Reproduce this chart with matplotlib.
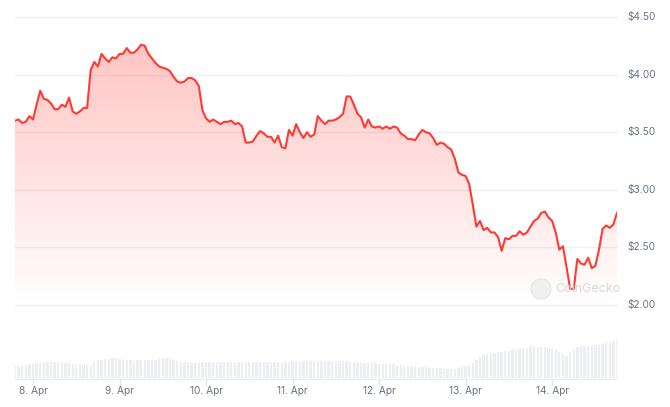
import numpy as np
import pandas as pd
import matplotlib
matplotlib.use("Agg")
import matplotlib.pyplot as plt
import matplotlib.dates as mdates
from matplotlib.patches import Polygon, Ellipse

plt.rcParams['font.family'] = ['Inter', 'DejaVu Sans']

# hourly price, USD
prices = [
    3.60, 3.61, 3.58, 3.59, 3.64, 3.61, 3.74, 3.86, 3.79, 3.78,
    3.75, 3.70, 3.70, 3.74, 3.72, 3.80, 3.68, 3.66, 3.68, 3.71,
    3.71, 4.04, 4.11, 4.07, 4.18, 4.14, 4.11, 4.15, 4.14, 4.18,
    4.18, 4.23, 4.19, 4.19, 4.22, 4.26, 4.25, 4.18, 4.14, 4.10,
    4.07, 4.06, 4.05, 4.03, 3.98, 3.94, 3.93, 3.94, 3.97, 3.97,
    3.95, 3.90, 3.69, 3.62, 3.59, 3.61, 3.59, 3.57, 3.59, 3.59,
    3.60, 3.57, 3.58, 3.55, 3.41, 3.41, 3.42, 3.47, 3.51, 3.49,
    3.46, 3.46, 3.41, 3.47, 3.37, 3.36, 3.52, 3.47, 3.57, 3.50,
    3.45, 3.50, 3.46, 3.48, 3.64, 3.60, 3.57, 3.60, 3.60, 3.61,
    3.63, 3.66, 3.81, 3.81, 3.74, 3.66, 3.63, 3.54, 3.61, 3.55,
    3.54, 3.55, 3.53, 3.55, 3.53, 3.55, 3.54, 3.49, 3.47, 3.44,
    3.44, 3.43, 3.48, 3.52, 3.50, 3.49, 3.45, 3.39, 3.41, 3.40,
    3.37, 3.35, 3.27, 3.15, 3.13, 3.12, 3.05, 2.87, 2.68, 2.73,
    2.65, 2.67, 2.63, 2.63, 2.59, 2.47, 2.58, 2.57, 2.60, 2.60,
    2.64, 2.61, 2.63, 2.68, 2.73, 2.75, 2.80, 2.81, 2.76, 2.73,
    2.63, 2.48, 2.51, 2.33, 2.14, 2.14, 2.40, 2.36, 2.35, 2.41,
    2.32, 2.34, 2.48, 2.66, 2.69, 2.67, 2.70, 2.80,
]

# hourly volume, arbitrary units (bar heights)
volumes = [
    12, 12, 13, 13, 14, 14, 15, 15, 16, 16,
    16, 16, 16, 15, 15, 15, 14, 14, 14, 14,
    13, 13, 17, 18, 18, 19, 19, 20, 20, 19,
    19, 18, 18, 17, 18, 18, 18, 18, 18, 18,
    19, 20, 20, 19, 18, 17, 16, 16, 16, 15,
    15, 15, 16, 16, 16, 16, 16, 16, 16, 16,
    16, 16, 16, 16, 16, 16, 16, 16, 16, 16,
    16, 16, 16, 16, 15, 16, 16, 17, 17, 16,
    17, 17, 17, 17, 17, 17, 17, 17, 17, 17,
    17, 17, 17, 16, 16, 16, 16, 15, 15, 15,
    15, 14, 14, 14, 14, 14, 13, 13, 12, 12,
    12, 12, 11, 11, 11, 10, 10, 10, 10, 9,
    9, 9, 9, 10, 11, 12, 13, 15, 18, 21,
    23, 24, 25, 25, 26, 26, 27, 27, 28, 29,
    29, 30, 30, 31, 31, 31, 31, 31, 30, 29,
    28, 26, 24, 22, 26, 29, 31, 32, 32, 32,
    33, 33, 33, 34, 35, 36, 37, 39,
]

times = pd.date_range("2024-04-07 19:00", periods=len(prices), freq="h")
day_ticks = pd.date_range("2024-04-08", periods=7, freq="D")
day_labels = ["8. Apr", "9. Apr", "10. Apr", "11. Apr", "12. Apr", "13. Apr", "14. Apr"]
price_ticks = [2.0, 2.5, 3.0, 3.5, 4.0, 4.5]

W, H = 670, 407
fig = plt.figure(figsize=(W / 100, H / 100), dpi=100)
fig.patch.set_facecolor("white")

red = "#ff3a33"
grid_c = "#eef0f4"
text_c = "#6b7385"

x = mdates.date2num(times)
xmin, xmax = x[0], x[-1]

# price axes
ax = fig.add_axes([15 / W, (H - 305) / H, 602 / W, 288 / H])
ax.set_xlim(xmin, xmax)
ax.set_ylim(2.0, 4.5)
ax.axis("off")

for p in price_ticks:
    ax.axhline(p, color=grid_c, lw=1, zorder=0, clip_on=False)
    ax.text(1.018, (p - 2.0) / 2.5, f"${p:.2f}", transform=ax.transAxes,
            ha="left", va="center", fontsize=7.3, color=text_c)

# gradient fill under line
grad = np.linspace(0, 1, 256).reshape(-1, 1)
cmap = matplotlib.colors.LinearSegmentedColormap.from_list(
    "g", [(1, 0.23, 0.2, 0.0), (1, 0.23, 0.2, 0.30)])
img = ax.imshow(grad, aspect="auto", cmap=cmap, origin="lower",
                extent=[xmin, xmax, 2.0, 4.27], zorder=1)
verts = [(xmin, 2.0)] + list(zip(x, prices)) + [(xmax, 2.0)]
poly = Polygon(verts, closed=True, facecolor="none", edgecolor="none")
ax.add_patch(poly)
img.set_clip_path(poly)

ax.plot(x, prices, color=red, lw=1.5, zorder=3, solid_joinstyle="round")

# watermark
fig.add_artist(Ellipse((541 / W, (H - 289) / H), 20 / W, 20 / H,
                       transform=fig.transFigure, facecolor="#f0f0f0",
                       edgecolor="#e4e4e4", lw=0.8, zorder=2))
fig.text(555 / W, (H - 289) / H, "CoinGecko", ha="left", va="center",
         fontsize=9, color="#d8d8d8", zorder=2)

# volume axes
vax = fig.add_axes([15 / W, (H - 378) / H, 602 / W, 45 / H])
vax.set_xlim(xmin, xmax)
vax.set_ylim(0, 45)
vax.bar(x, volumes, width=0.65 / 24, color="#eceef2", align="center")
vax.axis("off")

# baseline and date ticks
fig.add_artist(plt.Line2D([15 / W, 617 / W], [(H - 379) / H] * 2,
                          color="#eef0f4", lw=1))
for d, lab in zip(mdates.date2num(day_ticks), day_labels):
    fx = (15 + (d - xmin) / (xmax - xmin) * 602) / W
    fig.add_artist(plt.Line2D([fx, fx], [(H - 379) / H, (H - 385) / H],
                              color="#e3e6eb", lw=1))
    fig.text(fx, (H - 391) / H, lab, ha="center", va="center",
             fontsize=7.3, color=text_c)

fig.savefig("out.png", dpi=100)
